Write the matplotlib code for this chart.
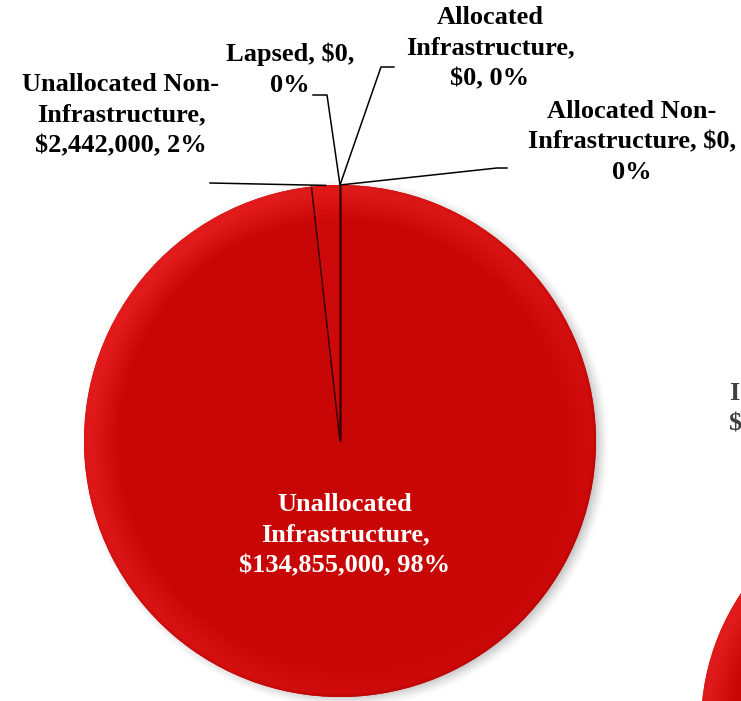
import numpy as np
import matplotlib
matplotlib.use("Agg")
import matplotlib.pyplot as plt

# ---------------- data ----------------
categories = ["Unallocated Infrastructure", "Unallocated Non-Infrastructure",
              "Lapsed", "Allocated Infrastructure", "Allocated Non-Infrastructure"]
amounts = [134855000, 2442000, 0, 0, 0]
label_texts = [
    "Unallocated\nInfrastructure,\n$134,855,000, 98%",
    "Unallocated Non-\nInfrastructure,\n$2,442,000, 2%",
    "Lapsed, $0,\n0%",
    "Allocated\nInfrastructure,\n$0, 0%",
    "Allocated Non-\nInfrastructure, $0,\n0%",
]
# neighbouring (cropped) chart
second_values = [1]
second_clipped_text = ["I", "$"]

# ---------------- layout ----------------
W, H = 741, 701
fig = plt.figure(figsize=(W / 100, H / 100), dpi=100)
ax = fig.add_axes([0, 0, 1, 1])

base = "#C90606"
cx, cy, R = 340, 441, 256
cx2, cy2, R2 = 938, 725, 237


def shadow_img(ccx, ccy, rr, dx=5, dy=3, spread=9):
    x0, x1 = ccx - rr - 30, ccx + rr + 30
    y0, y1 = ccy - rr - 30, ccy + rr + 30
    xs = np.arange(x0, x1) + 0.5
    ys = np.arange(y0, y1) + 0.5
    XX, YY = np.meshgrid(xs, ys)
    d = np.hypot(XX - ccx - dx, YY - ccy - dy)
    a = np.clip((rr + spread - d) / (2 * spread), 0, 1) ** 1.5 * 0.5
    img = np.zeros(XX.shape + (4,))
    img[..., :3] = 0.35
    img[..., 3] = a
    return img, (x0, x1, y1, y0)


def shade_img(ccx, ccy, rr):
    x0, x1 = ccx - rr, ccx + rr
    y0, y1 = ccy - rr, ccy + rr
    xs = np.arange(x0, x1) + 0.5
    ys = np.arange(y0, y1) + 0.5
    XX, YY = np.meshgrid(xs, ys)
    nx = (XX - ccx) / rr
    ny = (YY - ccy) / rr
    d = np.hypot(nx, ny)
    basec = np.array([201, 6, 6]) / 255.0
    light = np.array([226, 28, 28]) / 255.0
    dark = np.array([175, 0, 0]) / 255.0
    rim = np.clip((d - 0.86) / 0.11, 0, 1)
    diag = (-(nx + ny) / np.sqrt(2)) / np.maximum(d, 1e-6)
    dirw = np.clip(0.55 + 0.45 * diag, 0, 1)
    f = (rim * dirw)[..., None]
    col = basec * (1 - f) + light * f
    edge = (np.clip((d - 0.985) / 0.015, 0, 1) * np.clip(0.5 - 0.5 * diag, 0, 1))[..., None] * 0.6
    col = col * (1 - edge) + dark * edge
    img = np.ones(XX.shape + (4,))
    img[..., :3] = col
    img[..., 3] = 1.0
    return img, (x0, x1, y1, y0)


# shadows
for (a, b, r) in [(cx, cy, R), (cx2, cy2, R2)]:
    s, ext = shadow_img(a, b, r)
    ax.imshow(s, extent=ext, origin="upper", zorder=1, interpolation="bilinear")

# main pie (clockwise from top on the inverted-y pixel axes)
wedges, _ = ax.pie(amounts, startangle=-90, counterclock=True, center=(cx, cy),
                   radius=R, colors=[base] * len(amounts),
                   wedgeprops=dict(linewidth=0, zorder=2), frame=True)
img, ext = shade_img(cx, cy, R)
for w in wedges:
    if w.theta2 - w.theta1 > 0:
        im = ax.imshow(img, extent=ext, origin="upper", zorder=3, interpolation="bilinear")
        im.set_clip_path(w)

# thin slice slightly brighter
w_thin = wedges[1]
thin_overlay = matplotlib.patches.Wedge((cx, cy), R * 0.995, w_thin.theta1, w_thin.theta2,
                                        facecolor="#E01414", alpha=0.25, lw=0, zorder=4)
ax.add_patch(thin_overlay)

# wedge boundary lines
for w in wedges:
    for th in (w.theta1, w.theta2):
        t = np.deg2rad(th)
        ax.plot([cx, cx + R * np.cos(t)], [cy, cy + R * np.sin(t)],
                color="#2a0000", lw=0.9, alpha=0.75, zorder=5, solid_capstyle="butt")

# second (cropped) pie
wedges2, _ = ax.pie(second_values, startangle=-90, counterclock=True, center=(cx2, cy2),
                    radius=R2, colors=[base], wedgeprops=dict(linewidth=0, zorder=2),
                    frame=True)
img2, ext2 = shade_img(cx2, cy2, R2)
im2 = ax.imshow(img2, extent=ext2, origin="upper", zorder=3, interpolation="bilinear")
im2.set_clip_path(wedges2[0])

# ---------------- labels ----------------
font = dict(family=["Liberation Serif", "DejaVu Serif"], weight="bold", size=19)
label_pos = [(345, 535), (121, 115), (290, 70), (490, 48), (632, 142)]
label_col = ["white", "black", "black", "black", "black"]

for txt, (lx, ly), c in zip(label_texts, label_pos, label_col):
    ax.text(lx, ly, txt, ha="center", va="center", color=c, linespacing=1.42,
            zorder=10, **font)

# leader lines (anchored at outer mid-angle of each slice)
elbows = [None, [(210, 183)], [(327, 95), (313, 95)], [(381, 67), (394, 67)],
          [(497, 168), (507, 168)]]
for w, el in zip(wedges, elbows):
    if el is None:
        continue
    tm = np.deg2rad((w.theta1 + w.theta2) / 2)
    ax0 = cx + R * np.cos(tm)
    ay0 = cy + R * np.sin(tm)
    xs = [ax0] + [p[0] for p in el]
    ys = [ay0] + [p[1] for p in el]
    ax.plot(xs, ys, color="black", lw=1.1, zorder=9)

# clipped label of neighbouring chart
ax.text(729, 393, second_clipped_text[0], ha="left", va="center", color="#404040", **font)
ax.text(728, 424, second_clipped_text[1], ha="left", va="center", color="#404040", **font)

ax.set_xlim(0, W)
ax.set_ylim(H, 0)
ax.set_aspect("equal")
ax.axis("off")

fig.savefig("out.png", dpi=100, facecolor="white")
